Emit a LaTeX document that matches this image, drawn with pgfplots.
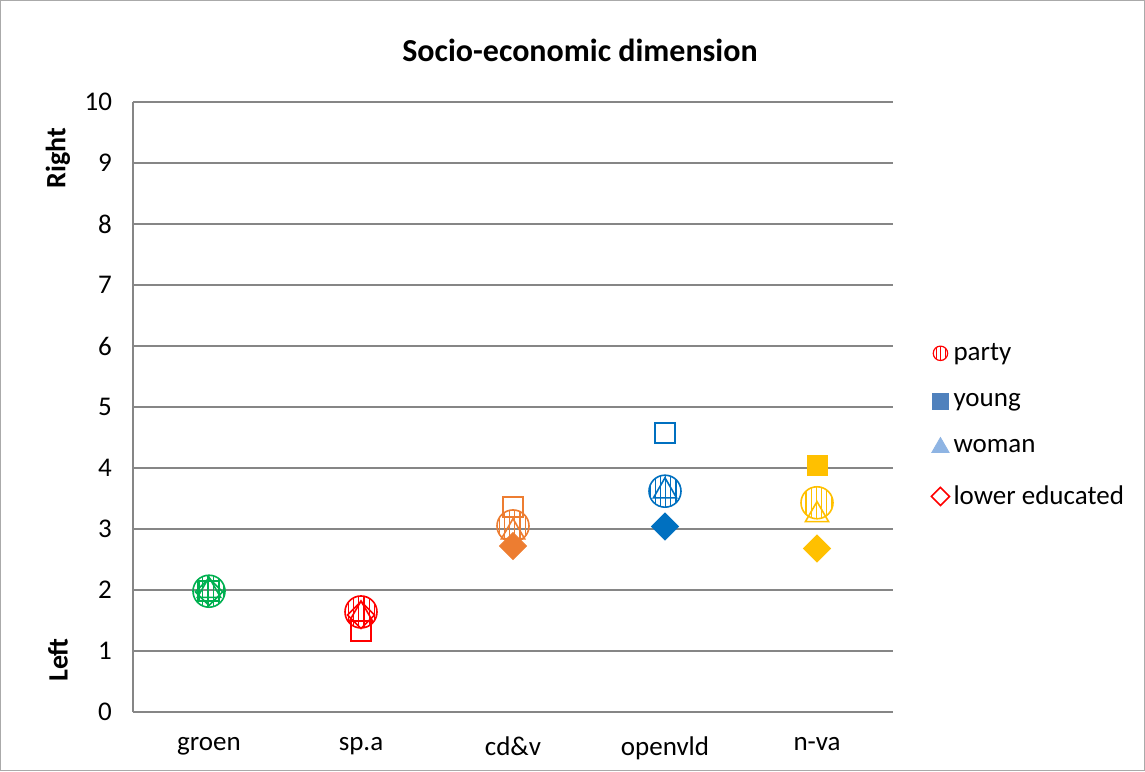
\documentclass[border=0pt]{standalone}
\usepackage{pgfplots}
\pgfplotsset{compat=1.18}
\usepackage{fontspec}
\setmainfont{Carlito}
\usetikzlibrary{patterns.meta}
\definecolor{cgroen}{HTML}{00B050}
\definecolor{cspa}{HTML}{FF0000}
\definecolor{ccdv}{HTML}{ED7D31}
\definecolor{copen}{HTML}{0070C0}
\definecolor{cnva}{HTML}{FFC000}
\definecolor{cyoung}{HTML}{4F81BD}
\definecolor{cwoman}{HTML}{8EB4E3}
\definecolor{gridc}{HTML}{868686}
\tikzset{
  partymk/.style={mark=*, mark size=8pt, mark options={solid, draw=#1, line width=0.8pt, fill=none, pattern={Lines[angle=90,distance=2.6pt,line width=0.6pt]}, pattern color=#1}},
  sqo/.style={mark=square, mark size=5pt, mark options={solid, draw=#1, line width=0.8pt}},
  sqf/.style={mark=square*, mark size=5pt, mark options={solid, draw=#1, fill=#1}},
  tro/.style={mark=triangle, mark size=6.7pt, mark options={solid, draw=#1, line width=0.8pt}},
  dmo/.style={mark=square, mark size=4.8pt, mark options={solid, rotate=45, draw=#1, line width=0.8pt}},
  dmf/.style={mark=square*, mark size=4.8pt, mark options={solid, rotate=45, draw=#1, fill=#1}},
}
\begin{document}
\begin{tikzpicture}
\path[use as bounding box] (-66.5pt,-29.5pt) rectangle (506pt,356pt);
\draw[color=gridc!70, line width=0.5pt] (-66.2pt,-29.2pt) rectangle (505.7pt,355.7pt);
\begin{axis}[
  at={(0pt,0pt)}, anchor=south west,
  scale only axis, width=380pt, height=305pt,
  xmin=-0.5, xmax=4.5, ymin=0, ymax=10,
  xtick={0,1,2,3,4},
  xticklabels={groen, sp.a, cd\&v, openvld, n-va},
  ytick={0,1,2,3,4,5,6,7,8,9,10},
  /pgf/number format/assume math mode=true,
  ticklabel style={font=\fontsize{13.5}{15}\selectfont},
  major tick length=0pt,
  yticklabel style={xshift=-7pt},
  xticklabel style={yshift=-9pt},
  ymajorgrids, grid style={gridc, line width=0.6pt},
  axis x line*=bottom, axis y line*=left,
  axis line style={gridc, line width=0.6pt, -},
  clip=false,
  legend style={at={(1.05,0.47)}, anchor=west, draw=none, fill=none,
    font=\fontsize{13.5}{15}\selectfont, row sep=11pt, inner sep=0pt,
    /tikz/every even column/.append style={column sep=2pt}},
  legend cell align=left,
]
% legend images
\addlegendimage{only marks, mark=*, mark size=3.6pt, mark options={draw=cspa, line width=0.6pt, fill=none, pattern={Lines[angle=90,distance=2.4pt,line width=0.5pt]}, pattern color=cspa}}
\addlegendentry{party}
\addlegendimage{only marks, mark=square*, mark size=4pt, mark options={draw=cyoung, fill=cyoung}}
\addlegendentry{young}
\addlegendimage{only marks, mark=triangle*, mark size=5pt, mark options={draw=cwoman, fill=cwoman}}
\addlegendentry{woman}
\addlegendimage{only marks, mark=square, mark size=3.2pt, mark options={rotate=45, draw=cspa, line width=0.8pt}}
\addlegendentry{lower educated}
% groen
\addplot[only marks, forget plot, sqo=cgroen] coordinates {(0,1.98)};
\addplot[only marks, forget plot, dmo=cgroen] coordinates {(0,1.97)};
\addplot[only marks, forget plot, tro=cgroen] coordinates {(0,1.99)};
\addplot[only marks, forget plot, partymk=cgroen] coordinates {(0,1.98)};
% sp.a
\addplot[only marks, forget plot, sqo=cspa] coordinates {(1,1.33)};
\addplot[only marks, forget plot, dmo=cspa] coordinates {(1,1.59)};
\addplot[only marks, forget plot, tro=cspa] coordinates {(1,1.60)};
\addplot[only marks, forget plot, partymk=cspa] coordinates {(1,1.64)};
% cd&v
\addplot[only marks, forget plot, sqo=ccdv] coordinates {(2,3.36)};
\addplot[only marks, forget plot, tro=ccdv] coordinates {(2,2.95)};
\addplot[only marks, forget plot, partymk=ccdv] coordinates {(2,3.05)};
\addplot[only marks, forget plot, dmf=ccdv] coordinates {(2,2.72)};
% openvld
\addplot[only marks, forget plot, sqo=copen] coordinates {(3,4.57)};
\addplot[only marks, forget plot, tro=copen] coordinates {(3,3.62)};
\addplot[only marks, forget plot, partymk=copen] coordinates {(3,3.62)};
\addplot[only marks, forget plot, dmf=copen] coordinates {(3,3.04)};
% n-va
\addplot[only marks, forget plot, sqf=cnva] coordinates {(4,4.05)};
\addplot[only marks, forget plot, tro=cnva] coordinates {(4,3.23)};
\addplot[only marks, forget plot, partymk=cnva] coordinates {(4,3.43)};
\addplot[only marks, forget plot, dmf=cnva] coordinates {(4,2.68)};
\end{axis}
\node[font=\bfseries\fontsize{16}{18}\selectfont] at (223.5pt,331pt) {Socio-economic dimension};
\node[font=\bfseries\fontsize{14}{16}\selectfont, rotate=90] at (-37.5pt,277pt) {Right};
\node[font=\bfseries\fontsize{14}{16}\selectfont, rotate=90] at (-37.5pt,26pt) {Left};
\end{tikzpicture}
\end{document}
